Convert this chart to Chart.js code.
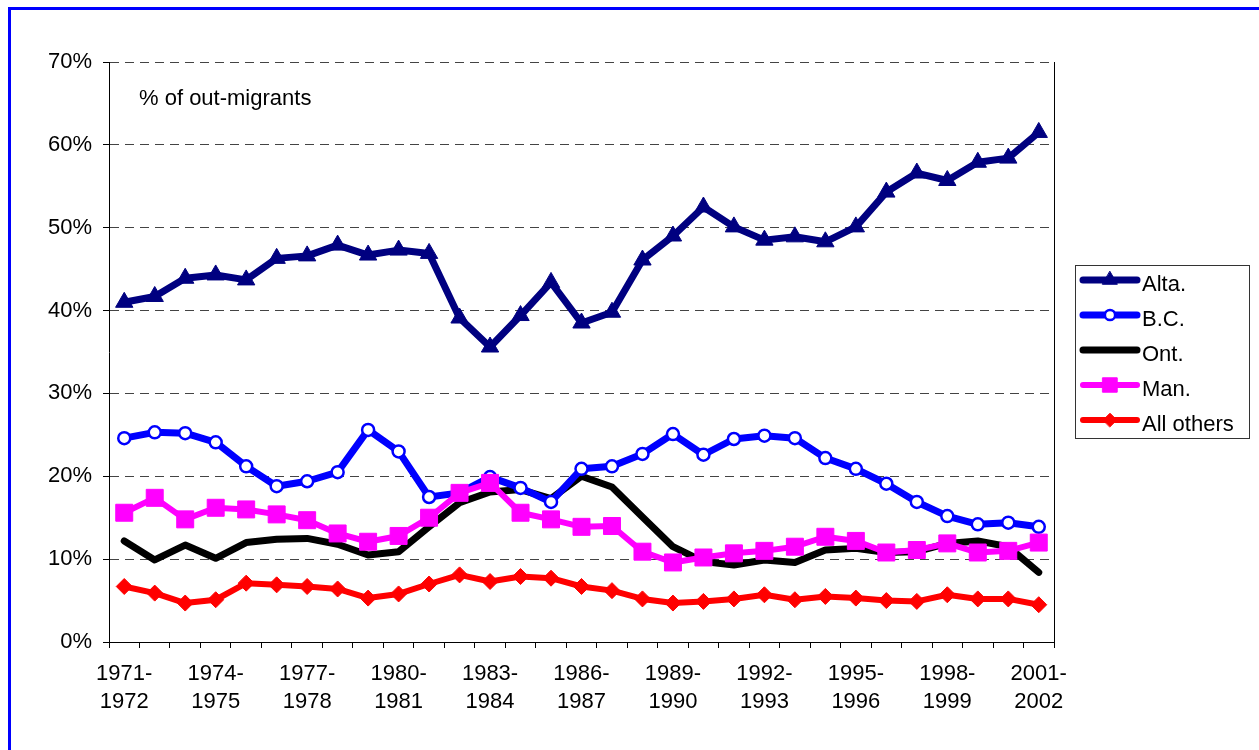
<!DOCTYPE html>
<html>
<head>
<meta charset="utf-8">
<script src="https://cdn.jsdelivr.net/npm/chart.js@4.4.1/dist/chart.umd.min.js"></script>
<style>
	html, body { margin: 0; padding: 0; background: #fff; overflow: hidden; }
	#wrap { position: relative; width: 1259px; height: 750px; overflow: hidden; }
	#frame { position: absolute; left: 8px; top: 7px; width: 1300px; height: 800px; border-left: 3px solid #0000ff; border-top: 3px solid #0000ff; }
	#mycanvas { position: absolute; left: 0; top: 0; }
</style>
</head>
<body>
<div id="wrap">
	<div id="frame"></div>
	<canvas id="mycanvas" width="1259" height="750"></canvas>
</div>
<script>
var years = ['1971-1972','1972-1973','1973-1974','1974-1975','1975-1976','1976-1977','1977-1978','1978-1979',
	'1979-1980','1980-1981','1981-1982','1982-1983','1983-1984','1984-1985','1985-1986','1986-1987',
	'1987-1988','1988-1989','1989-1990','1990-1991','1991-1992','1992-1993','1993-1994','1994-1995',
	'1995-1996','1996-1997','1997-1998','1998-1999','1999-2000','2000-2001','2001-2002'];

var alta = [41.0, 41.7, 43.9, 44.3, 43.7, 46.3, 46.6, 47.9, 46.7, 47.3, 46.9, 39.1, 35.6, 39.4, 43.4, 38.5,
	39.8, 46.1, 49.0, 52.5, 50.1, 48.5, 48.9, 48.3, 50.1, 54.3, 56.6, 55.7, 57.9, 58.4, 61.5];
var bc = [24.6, 25.3, 25.2, 24.1, 21.2, 18.8, 19.4, 20.5, 25.6, 23.0, 17.5, 18.0, 19.9, 18.6, 16.9, 20.9,
	21.2, 22.7, 25.1, 22.6, 24.5, 24.9, 24.6, 22.2, 20.9, 19.1, 16.9, 15.2, 14.2, 14.4, 13.9];
var ont = [12.2, 9.9, 11.7, 10.1, 12.0, 12.4, 12.5, 11.8, 10.5, 10.9, 13.9, 16.8, 18.1, 18.4, 17.3, 20.0,
	18.7, 15.1, 11.5, 9.7, 9.3, 9.9, 9.6, 11.1, 11.3, 10.8, 10.9, 11.9, 12.2, 11.5, 8.4];
var man = [15.6, 17.4, 14.8, 16.2, 16.0, 15.4, 14.7, 13.1, 12.1, 12.8, 15.0, 18.0, 19.2, 15.6, 14.8, 13.9,
	14.0, 10.9, 9.6, 10.2, 10.7, 11.0, 11.5, 12.7, 12.2, 10.8, 11.1, 11.9, 10.8, 11.0, 12.0];
var others = [6.7, 5.9, 4.7, 5.1, 7.1, 6.9, 6.7, 6.4, 5.3, 5.8, 7.0, 8.1, 7.3, 7.9, 7.7, 6.7,
	6.2, 5.2, 4.7, 4.9, 5.2, 5.7, 5.1, 5.5, 5.3, 5.0, 4.9, 5.7, 5.2, 5.2, 4.5];

var yTicks = [0, 10, 20, 30, 40, 50, 60, 70];
var noteText = '% of out-migrants';

Chart.defaults.font.family = '"Liberation Sans", Arial, sans-serif';
Chart.defaults.font.size = 22;
Chart.defaults.color = '#000';

// frame line on the right, the note and the boxed legend
var extras = {
	id: 'extras',
	beforeDatasetsDraw: function(chart) {
		var c = chart.ctx, a = chart.chartArea;
		c.save();
		c.strokeStyle = '#000';
		c.lineWidth = 1;
		c.beginPath();
		c.moveTo(Math.round(a.right) + 0.5, a.top);
		c.lineTo(Math.round(a.right) + 0.5, a.bottom);
		c.stroke();
		c.restore();
	},
	afterDraw: function(chart) {
		var c = chart.ctx, a = chart.chartArea;
		c.save();
		c.font = '22px "Liberation Sans", Arial, sans-serif';
		c.fillStyle = '#000';
		c.textBaseline = 'alphabetic';
		c.fillText(noteText, a.left + 30, a.top + 43);

		var bx = a.right + 21, by = a.top + 203;
		c.strokeStyle = '#333';
		c.lineWidth = 1;
		c.strokeRect(Math.round(bx) + 0.5, by + 0.5, 174, 173);

		chart.data.datasets.forEach(function(ds, i) {
			var y = by + 15 + i * 35;
			c.strokeStyle = ds.borderColor;
			c.lineWidth = ds.borderWidth;
			c.lineCap = 'round';
			c.beginPath();
			c.moveTo(bx + 8, y);
			c.lineTo(bx + 62, y);
			c.stroke();
			if (ds.pointRadius > 0) {
				c.fillStyle = ds.pointBackgroundColor;
				c.strokeStyle = ds.pointBorderColor;
				c.lineWidth = ds.pointBorderWidth;
				Chart.helpers.drawPoint(c, {
					pointStyle: ds.pointStyle,
					radius: ds.pointRadius * 0.85,
					borderWidth: ds.pointBorderWidth,
					rotation: 0
				}, bx + 35, y);
			}
			c.fillStyle = '#000';
			c.fillText(ds.label, bx + 67, y + 11);
		});
		c.restore();
	}
};

var chartdata = {
	labels: years,
	datasets: [
		{
			label: 'Alta.',
			data: alta,
			borderColor: '#000080',
			backgroundColor: '#000080',
			borderWidth: 7,
			pointStyle: 'triangle',
			pointRadius: 10,
			pointBorderWidth: 1,
			pointBackgroundColor: '#000080',
			pointBorderColor: '#000080',
			order: 5
		},
		{
			label: 'B.C.',
			data: bc,
			borderColor: '#0000ff',
			backgroundColor: '#0000ff',
			borderWidth: 7,
			pointStyle: 'circle',
			pointRadius: 6,
			pointBorderWidth: 2.5,
			pointBackgroundColor: '#ffffff',
			pointBorderColor: '#0000ff',
			order: 3
		},
		{
			label: 'Ont.',
			data: ont,
			borderColor: '#000000',
			backgroundColor: '#000000',
			borderWidth: 7,
			pointRadius: 0,
			pointBorderWidth: 0,
			order: 4
		},
		{
			label: 'Man.',
			data: man,
			borderColor: '#ff00ff',
			backgroundColor: '#ff00ff',
			borderWidth: 6,
			pointStyle: 'rect',
			pointRadius: 12,
			pointBorderWidth: 1,
			pointBackgroundColor: '#ff00ff',
			pointBorderColor: '#ff00ff',
			order: 2
		},
		{
			label: 'All others',
			data: others,
			borderColor: '#ff0000',
			backgroundColor: '#ff0000',
			borderWidth: 6,
			pointStyle: 'rectRot',
			pointRadius: 8,
			pointBorderWidth: 1,
			pointBackgroundColor: '#ff0000',
			pointBorderColor: '#ff0000',
			order: 1
		}
	]
};

chartdata.datasets.forEach(function(ds) {
	ds.tension = 0;
	ds.fill = false;
	ds.borderJoinStyle = 'round';
	ds.borderCapStyle = 'round';
	ds.pointHoverRadius = ds.pointRadius;
});

var lineGraph = new Chart(document.getElementById('mycanvas'), {
	type: 'line',
	data: chartdata,
	plugins: [extras],
	options: {
		responsive: false,
		animation: false,
		devicePixelRatio: 1,
		layout: { padding: { top: 62, right: 205, bottom: 0, left: 0 } },
		plugins: {
			legend: { display: false },
			tooltip: { enabled: false }
		},
		scales: {
			x: {
				type: 'category',
				offset: true,
				grid: { offset: true, drawOnChartArea: false, drawTicks: true, tickLength: 6, color: '#000', lineWidth: 1 },
				border: { color: '#000', width: 1 },
				ticks: {
					autoSkip: false,
					maxRotation: 0,
					minRotation: 0,
					padding: 12,
					font: { size: 22, lineHeight: 1.27 },
					callback: function(value, index) {
						if (index % 3 !== 0) return '';
						var parts = this.getLabelForValue(value).split('-');
						return [parts[0] + '-', parts[1]];
					}
				},
				afterFit: function(scale) { scale.height = 108; }
			},
			y: {
				min: yTicks[0],
				max: yTicks[yTicks.length - 1],
				afterBuildTicks: function(scale) {
					scale.ticks = yTicks.map(function(v) { return { value: v }; });
				},
				ticks: {
					padding: 11,
					callback: function(value) { return value + '%'; }
				},
				grid: { color: '#444', lineWidth: 1, tickColor: '#000', tickLength: 6 },
				border: { color: '#000', width: 1, dash: [9, 6] },
				afterFit: function(scale) { scale.width = 109; }
			}
		}
	}
});
</script>
</body>
</html>
